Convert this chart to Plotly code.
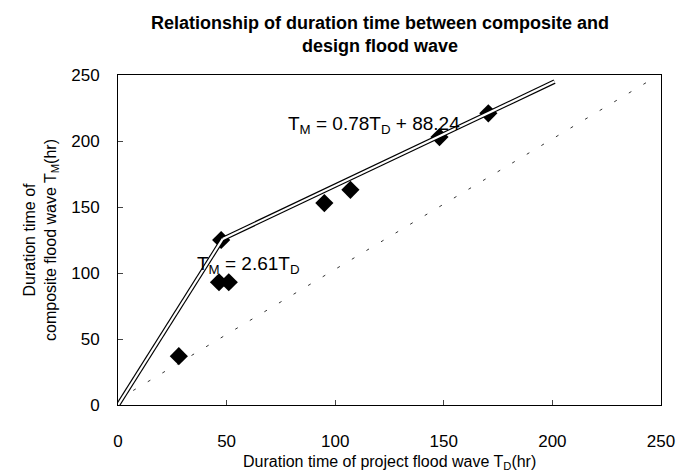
import plotly.graph_objects as go

# observed points (design flood wave duration vs composite flood wave duration)
td_obs = [28, 46.5, 51, 95, 107, 47.5, 148, 170.5]
tm_obs = [37, 93, 93, 153, 163, 125, 203, 221]

# fitted relations
fit1_x = [0, 48.2]
fit1_y = [0, 125.8]          # T_M = 2.61 T_D
fit2_x = [48.2, 201]
fit2_y = [125.8, 245.0]      # T_M = 0.78 T_D + 88.24

# 1:1 reference line
ref_x = [7, 246]
ref_y = [11, 247]

x_ticks = [0, 50, 100, 150, 200, 250]
y_ticks = [0, 50, 100, 150, 200, 250]

font = "Liberation Sans, Arial, sans-serif"

fig = go.Figure()

fig.add_trace(go.Scatter(x=ref_x, y=ref_y, mode="lines",
                         line=dict(color="#333", width=1, dash="3px,14px")))

fig.add_trace(go.Scatter(x=td_obs, y=tm_obs, mode="markers",
                         marker=dict(symbol="diamond", size=14, color="black")))

# double (outlined) fitted lines
for xs, ys in [(fit1_x, fit1_y), (fit2_x, fit2_y)]:
    fig.add_trace(go.Scatter(x=xs, y=ys, mode="lines",
                             line=dict(color="black", width=4.5)))
for xs, ys in [(fit1_x, fit1_y), (fit2_x, fit2_y)]:
    fig.add_trace(go.Scatter(x=xs, y=ys, mode="lines",
                             line=dict(color="white", width=2.2)))

fig.add_annotation(x=118, y=212, text="T<sub>M</sub> = 0.78T<sub>D</sub> + 88.24",
                   showarrow=False, font=dict(size=19, color="black", family=font))
fig.add_annotation(x=60, y=106, text="T<sub>M</sub> = 2.61T<sub>D</sub>",
                   showarrow=False, font=dict(size=19, color="black", family=font))

# title as a paper annotation
fig.add_annotation(xref="paper", yref="paper", x=0.483, y=1.0, yshift=41,
                   xanchor="center", yanchor="middle", showarrow=False,
                   text="<b>Relationship of duration time between composite and<br>design flood wave</b>",
                   font=dict(size=18, family=font, color="black"))

# x axis title, placed by hand below the tick labels
fig.add_annotation(xref="paper", yref="paper", x=0.5, y=0, yshift=-57,
                   xanchor="center", yanchor="middle", showarrow=False,
                   text="Duration time of project flood wave T<sub>D</sub>(hr)",
                   font=dict(size=16, family=font, color="black"))

fig.update_layout(
    template="none",
    width=681, height=472,
    margin=dict(l=118, r=20, t=75, b=67),
    paper_bgcolor="white", plot_bgcolor="white",
    showlegend=False,
    font=dict(family=font, color="black"),
    xaxis=dict(range=[0, 250], tickvals=x_ticks, ticks="inside", ticklen=5,
               showgrid=False, zeroline=False, showline=True, linecolor="black",
               linewidth=1, mirror=True, tickfont=dict(size=17),
               ticklabelstandoff=21, automargin=False),
    yaxis=dict(range=[0, 250], tickvals=y_ticks, ticks="inside", ticklen=5,
               showgrid=False, zeroline=False, showline=True, linecolor="black",
               linewidth=1, mirror=True, tickfont=dict(size=17),
               ticklabelstandoff=14, automargin=False,
               title=dict(text="Duration time of<br>composite flood wave T<sub>M</sub>(hr)",
                          font=dict(size=16), standoff=10)),
)

# drop the page's default body margin so the figure fills the window
fig.write_html("out.html", config={"displayModeBar": False},
               post_script="document.body.style.margin='0';")
